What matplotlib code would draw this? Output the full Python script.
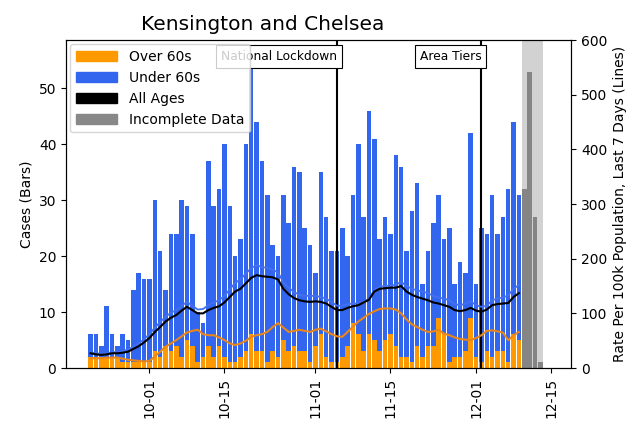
import pandas as pd
import matplotlib
matplotlib.use('Agg')
import matplotlib.pyplot as plt
import matplotlib.dates as mdates
from matplotlib.patches import Patch

# daily cases (bars), 2020-09-20 .. 2020-12-09
start = '2020-09-20'
total_cases = [6, 6, 4, 11, 6, 4, 6, 5, 14, 17, 16,
               16, 30, 21, 14, 24, 24, 30, 29, 24, 10, 8, 37, 29, 32, 40, 29, 20, 23, 40, 55,
               44, 37, 31, 22, 20, 31, 26, 36, 35, 25, 22,
               17, 35, 27, 21, 21, 25, 20, 31, 40, 27, 46, 41, 23, 27, 24, 38, 36, 21, 28, 33,
               15, 21, 26, 31, 23, 25, 15, 19, 17, 42,
               15, 25, 24, 31, 24, 27, 32, 44, 31]
over60_cases = [2, 2, 2, 2, 2, 2, 1, 1, 1, 1, 1,
                1, 3, 2, 4, 3, 4, 2, 5, 4, 1, 2, 4, 2, 4, 2, 1, 1, 2, 3, 6,
                3, 3, 1, 3, 2, 5, 3, 4, 3, 3, 1,
                4, 6, 2, 1, 1, 2, 4, 8, 6, 3, 6, 5, 3, 5, 6, 4, 2, 2, 1, 4,
                2, 4, 4, 9, 6, 1, 2, 2, 3, 9,
                2, 1, 3, 2, 3, 3, 1, 6, 5]

# incomplete days
incomplete_start = '2020-12-10'
incomplete_cases = [32, 53, 27, 1]

# 7 day rates per 100k (lines)
all_ages_rate = [27, 25, 24, 25, 27, 27, 28, 30, 35, 40, 47,
                 55, 66, 75, 85, 92, 97, 105, 112, 106, 100, 100, 106, 110, 113, 120, 130, 140, 145, 155, 165,
                 170, 168, 167, 166, 162, 145, 135, 128, 124, 122, 121,
                 122, 121, 118, 112, 106, 106, 110, 113, 115, 120, 125, 140, 145, 146, 147, 147, 150, 140, 134, 130,
                 127, 124, 120, 118, 115, 112, 106, 104, 106, 110,
                 105, 103, 107, 115, 117, 118, 119, 130, 137]
over60_rate = [18, 18, 18, 19, 19, 19, 17, 15, 14, 13, 12,
               13, 21, 30, 39, 45, 51, 58, 65, 68, 70, 62, 60, 60, 56, 51, 45, 42, 45, 50, 57,
               60, 62, 66, 75, 82, 74, 66, 68, 70, 68, 66,
               70, 72, 67, 62, 58, 57, 66, 76, 85, 92, 99, 104, 108, 109, 109, 107, 100, 89, 80, 75,
               70, 66, 67, 70, 63, 60, 56, 53, 52, 51,
               55, 60, 68, 69, 67, 65, 51, 60, 66]
under60_rate = [29, 27, 26, 27, 29, 29, 31, 34, 39, 45, 53,
                62, 74, 84, 94, 101, 106, 114, 121, 114, 107, 108, 115, 120, 124, 132, 144, 156, 162, 173, 183,
                188, 185, 183, 180, 175, 157, 147, 139, 134, 132, 132,
                132, 130, 127, 121, 114, 114, 117, 118, 118, 122, 126, 143, 149, 150, 151, 152, 158, 150, 145, 142,
                140, 137, 132, 129, 127, 124, 117, 115, 118, 122,
                115, 112, 114, 124, 127, 129, 133, 145, 152]

events = [('2020-11-05', 'National Lockdown'), ('2020-12-02', 'Area Tiers')]

orange = '#ff9900'
blue = '#3366ee'
grey = '#888888'

dates = pd.date_range(start, periods=len(total_cases))
inc_dates = pd.date_range(incomplete_start, periods=len(incomplete_cases))
under60_cases = [t - o for t, o in zip(total_cases, over60_cases)]

fig = plt.figure(figsize=(6.29, 4.23), dpi=100)
ax = fig.add_axes([0.105, 0.130, 0.803, 0.775])
ax2 = ax.twinx()

# bars
ax.bar(dates, over60_cases, width=0.85, color=orange)
ax.bar(dates, under60_cases, width=0.85, bottom=over60_cases, color=blue)
ax.bar(inc_dates, incomplete_cases, width=0.85, color=grey)
ax.axvspan(pd.Timestamp('2020-12-09 12:00'), pd.Timestamp('2020-12-13 12:00'),
           color='grey', alpha=0.35, lw=0)

# event markers
for d, label in events:
    d = pd.Timestamp(d)
    ax.axvline(d, color='black', lw=1.5)
    ax.text(d, 0.95, label, transform=ax.get_xaxis_transform(), ha='right', va='center',
            fontsize=8.8, bbox=dict(facecolor='white', edgecolor='black', boxstyle='square,pad=0.4', lw=0.8))

# lines
ax2.plot(dates, under60_rate, color='#4470f0', lw=1.3)
ax2.plot(dates, over60_rate, color='#e8861a', lw=1.5)
ax2.plot(dates, all_ages_rate, color='black', lw=1.5)

ax.set_xlim(pd.Timestamp('2020-09-15 10:00'), pd.Timestamp('2020-12-18 18:00'))
ax.set_ylim(0, 58.6)
ax2.set_ylim(0, 600)
ax.set_yticks([0, 10, 20, 30, 40, 50])
ax2.set_yticks([0, 100, 200, 300, 400, 500, 600])

ax.xaxis.set_major_locator(mdates.DayLocator(bymonthday=[1, 15]))
ax.xaxis.set_major_formatter(mdates.DateFormatter('%m-%d'))
plt.setp(ax.get_xticklabels(), rotation=90)
ax.tick_params(labelsize=10)
ax2.tick_params(labelsize=10)

ax.set_ylabel('Cases (Bars)', fontsize=10)
ax2.set_ylabel('Rate Per 100k Population, Last 7 Days (Lines)', fontsize=10)
fig.text(263 / 629, 1 - 24 / 423, 'Kensington and Chelsea', fontsize=14.5, ha='center', va='center')

handles = [Patch(color=orange), Patch(color=blue), Patch(color='black'), Patch(color=grey)]
ax2.legend(handles, ['Over 60s', 'Under 60s', 'All Ages', 'Incomplete Data'],
           loc='upper left', fontsize=10, handlelength=3, borderaxespad=0.3)

fig.savefig('out.png', dpi=100)
